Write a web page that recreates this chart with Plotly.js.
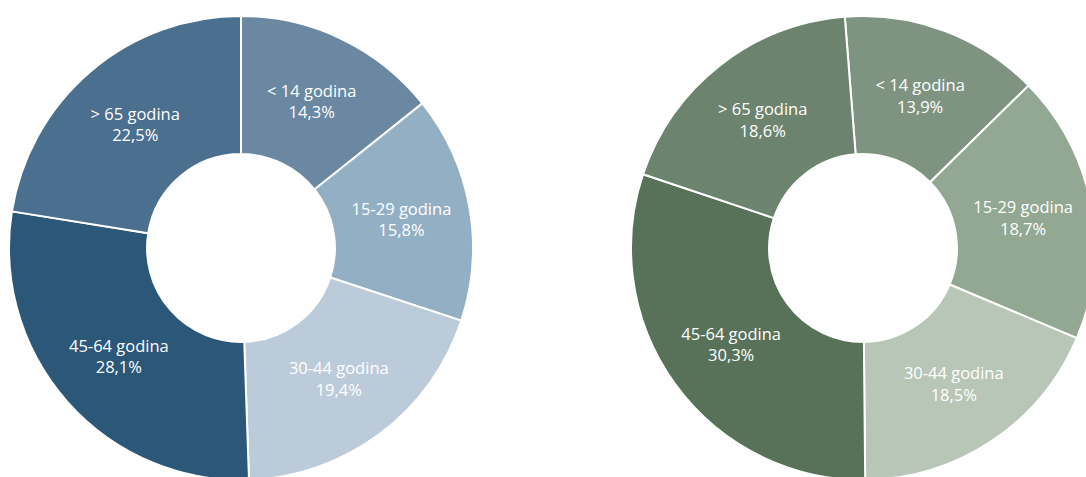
<!DOCTYPE html>
<html>
<head>
<meta charset="utf-8">
<script src="https://cdn.plot.ly/plotly-3.0.1.min.js"></script>
<style>
html,body{margin:0;padding:0;overflow:hidden;background:#fff;}
#chart{width:1100px;height:480px;}
</style>
</head>
<body>
<div id="chart"></div>
<script>
const categories = ['< 14 godina', '15-29 godina', '30-44 godina', '45-64 godina', '> 65 godina'];
const valuesLeft = [14.3, 15.8, 19.4, 28.1, 22.5];
const valuesRight = [13.9, 18.7, 18.5, 30.3, 18.6];
const colorsLeft = ['#6a88a2', '#93afc3', '#bccbd9', '#2b5778', '#4a6f8f'];
const colorsRight = ['#7e9480', '#92a892', '#b7c6b7', '#577258', '#6c846d'];

function fmt(v){ return v.toFixed(1).replace('.', ',') + '%'; }

function pieTrace(values, colors, domainX, rotation){
  return {
    type: 'pie',
    labels: categories,
    values: values,
    text: values.map(fmt),
    texttemplate: '%{label}<br>%{text}',
    textinfo: 'text',
    textposition: 'inside',
    insidetextorientation: 'horizontal',
    textfont: {family: 'Open Sans, sans-serif', size: 16.5, color: '#ffffff'},
    hole: 0.405,
    sort: false,
    direction: 'clockwise',
    rotation: rotation,
    marker: {colors: colors, line: {color: '#ffffff', width: 2}},
    domain: {x: domainX, y: [0, 1]},
    showlegend: false,
    hoverinfo: 'label+text'
  };
}

const W = 1100;
const data = [
  pieTrace(valuesLeft, colorsLeft, [0, 482 / W], 0),
  pieTrace(valuesRight, colorsRight, [626 / W, 1], -4.5)
];

const layout = {
  width: W,
  height: 480,
  margin: {l: 0, r: 0, t: 16, b: 0},
  paper_bgcolor: '#ffffff',
  plot_bgcolor: '#ffffff',
  showlegend: false
};

Plotly.newPlot('chart', data, layout, {displayModeBar: false, staticPlot: true});
</script>
</body>
</html>
